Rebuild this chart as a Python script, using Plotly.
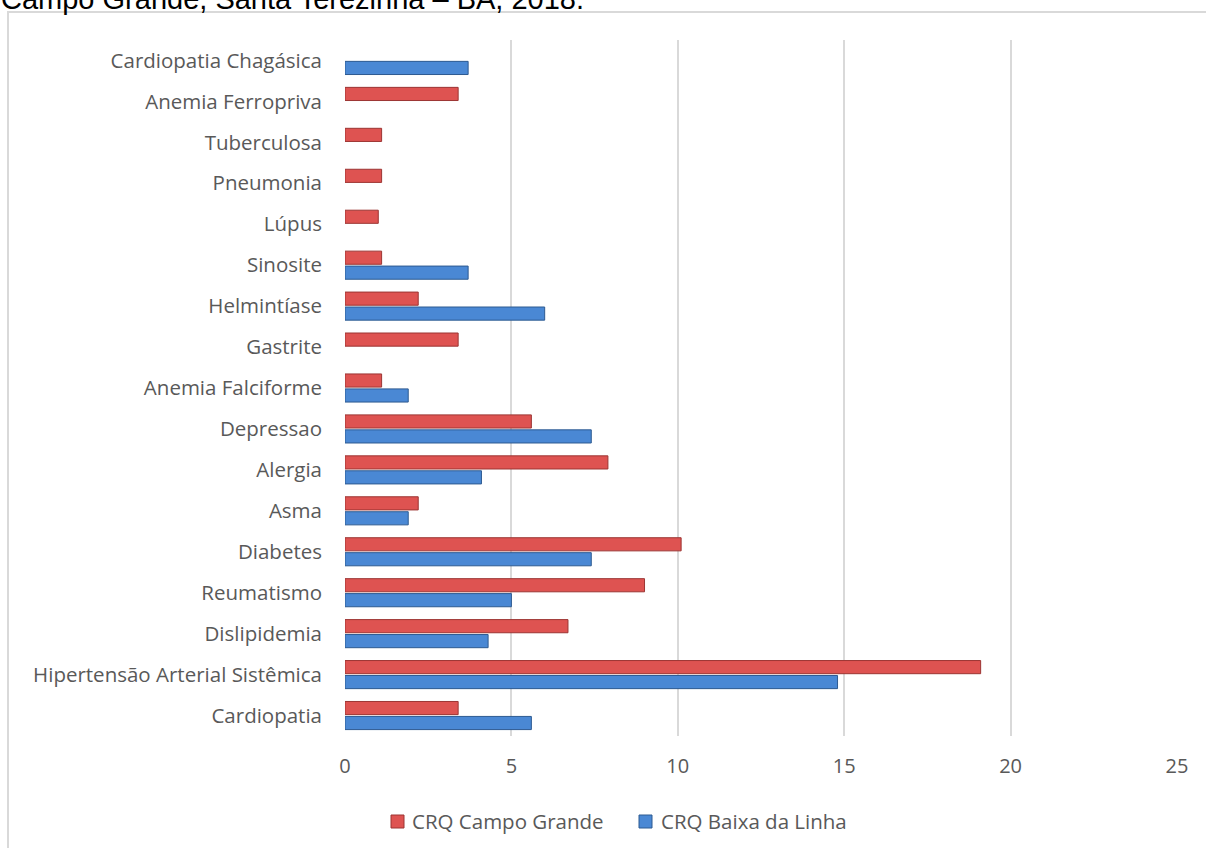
import plotly.graph_objects as go

categories = [
    "Cardiopatia", "Hipertensão Arterial Sistêmica", "Dislipidemia", "Reumatismo",
    "Diabetes", "Asma", "Alergia", "Depressao", "Anemia Falciforme", "Gastrite",
    "Helmintíase", "Sinosite", "Lúpus", "Pneumonia", "Tuberculosa",
    "Anemia Ferropriva", "Cardiopatia Chagásica",
]
campo_grande = [3.4, 19.1, 6.7, 9.0, 10.1, 2.2, 7.9, 5.6, 1.1, 3.4, 2.2, 1.1, 1.0, 1.1, 1.1, 3.4, 0]
baixa_linha = [5.6, 14.8, 4.3, 5.0, 7.4, 1.9, 4.1, 7.4, 1.9, 0, 6.0, 3.7, 0, 0, 0, 0, 3.7]
x_ticks = [0, 5, 10, 15, 20, 25]
series_names = ["CRQ Campo Grande", "CRQ Baixa da Linha"]

W, H = 1206, 848
L, R, T, B = 345, 29, 40, 112
pw, ph = W - L - R, H - T - B

FONT = "Open Sans"
GREY = "#595959"
RED, RED_EDGE = "#DE5351", "#9C3533"
BLUE, BLUE_EDGE = "#4A88D4", "#2D5A91"


def px_x(px):
    return (px - L) / pw


def px_y(py):
    return (T + ph - py) / ph


def edge_widths(vals):
    return [0 if v == 0 else 1 for v in vals]


fig = go.Figure()
fig.add_trace(go.Bar(
    y=categories, x=baixa_linha, orientation="h", name=series_names[1],
    marker=dict(color=BLUE, line=dict(color=BLUE_EDGE, width=edge_widths(baixa_linha))),
))
fig.add_trace(go.Bar(
    y=categories, x=campo_grande, orientation="h", name=series_names[0],
    marker=dict(color=RED, line=dict(color=RED_EDGE, width=edge_widths(campo_grande))),
))

shapes = [dict(
    type="rect", xref="paper", yref="paper",
    x0=px_x(8), x1=px_x(1215), y0=px_y(860), y1=px_y(12),
    line=dict(color="#D9D9D9", width=2), fillcolor="rgba(0,0,0,0)", layer="below",
)]
annotations = [dict(
    text="Campo Grande, Santa Terezinha – BA, 2018.",
    xref="paper", yref="paper", x=px_x(-1), xanchor="left",
    y=px_y(17), yanchor="bottom", showarrow=False,
    font=dict(family="Liberation Sans", size=29, color="#000000"),
)]

# legend (manual, to match spacing of reference)
legend_items = [(series_names[0], RED, RED_EDGE, 391, 410), (series_names[1], BLUE, BLUE_EDGE, 639, 659)]
for name, col, edge, mx, tx in legend_items:
    shapes.append(dict(
        type="rect", xref="paper", yref="paper",
        x0=px_x(mx), x1=px_x(mx + 13), y0=px_y(828), y1=px_y(815),
        fillcolor=col, line=dict(color=edge, width=1),
    ))
    annotations.append(dict(
        text=name, xref="paper", yref="paper", x=px_x(tx), xanchor="left",
        y=px_y(821), yanchor="middle", showarrow=False,
        font=dict(family=FONT, size=20.5, color=GREY),
    ))

fig.update_layout(
    width=W, height=H,
    margin=dict(l=L, r=R, t=T, b=B),
    paper_bgcolor="white", plot_bgcolor="white",
    barmode="group", bargap=0.27, bargroupgap=0.12,
    font=dict(family=FONT, size=20.5, color=GREY),
    showlegend=False,
    xaxis=dict(
        range=[0, 25], tickvals=x_ticks, showgrid=True, gridcolor="#D9D9D9",
        gridwidth=2, zeroline=False, showline=False, ticks="",
        ticklabelstandoff=16, tickfont=dict(size=20, color=GREY),
    ),
    yaxis=dict(
        categoryorder="array", categoryarray=categories, showgrid=False,
        zeroline=False, showline=False, ticks="", ticklabelstandoff=22,
        tickfont=dict(size=20.5, color=GREY), range=[-0.5, len(categories) - 0.5],
    ),
    shapes=shapes,
    annotations=annotations,
)

fig.write_html("out.html")
